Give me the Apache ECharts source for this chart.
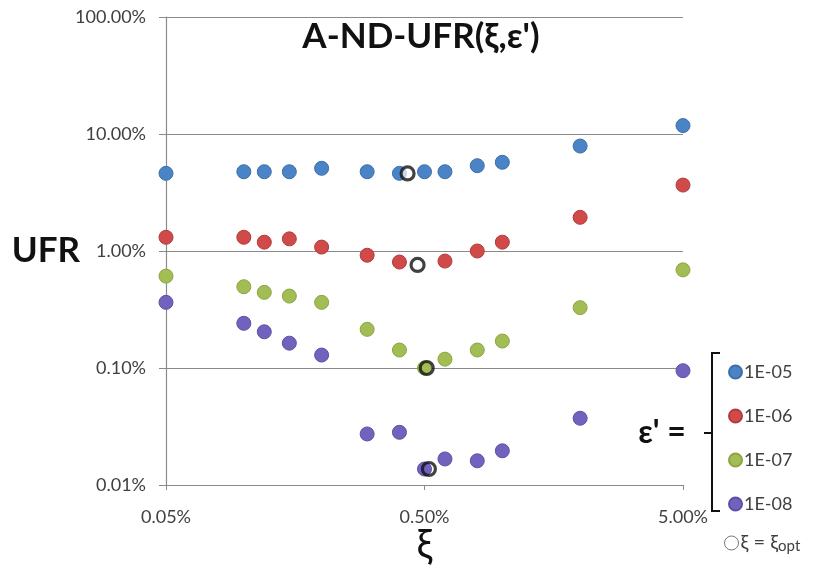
<!DOCTYPE html>
<html>
<head>
<meta charset="utf-8">
<script src="https://cdn.jsdelivr.net/npm/echarts@6/dist/echarts.min.js"></script>
<style>
  html, body { margin: 0; padding: 0; background: #fff; }
  #chart { width: 824px; height: 567px; }
</style>
</head>
<body>
<div id="chart"></div>
<script>
// ξ values (fraction) shared by all ε' series
const xi = [0.0005, 0.001, 0.0012, 0.0015, 0.002, 0.003, 0.004, 0.005, 0.006, 0.008, 0.01, 0.02, 0.05];

// UFR (fraction) for each ε'
const ufr_1e5 = [0.0461, 0.0476, 0.0476, 0.0476, 0.0509, 0.0476, 0.0461, 0.0476, 0.0476, 0.0536, 0.0573, 0.0789, 0.118];
const ufr_1e6 = [0.0131, 0.0131, 0.0119, 0.0127, 0.0108, 0.0092, 0.00805, null, 0.0082, 0.0100, 0.0119, 0.0194, 0.0366];
const ufr_1e7 = [0.0061, 0.00495, 0.00443, 0.00412, 0.00364, 0.00214, 0.001425, 0.0010, 0.00119, 0.001425, 0.00170, 0.00328, 0.0069];
const ufr_1e8 = [0.00364, 0.00241, 0.00204, 0.00163, 0.00129, 0.000273, 0.000282, 0.000137, 0.000167, 0.000161, 0.000196, 0.000372, 0.000948];

// optimum ξ for each ε' and the UFR there
const optXi  = [0.0043, 0.0047, 0.0051, 0.0052];
const optUfr = [0.0460, 0.0076, 0.0010, 0.000137];

const seriesNames = ['1E-05', '1E-06', '1E-07', '1E-08'];
const seriesColors = ['#4A84C6', '#D04A4A', '#A3BD55', '#7262BE'];
const seriesBorders = ['#3C6FA8', '#B23C3C', '#8CA444', '#5E50A4'];

const xTicks = [0.0005, 0.005, 0.05];

const FONT = 'Lato, "Liberation Sans", "DejaVu Sans", sans-serif';
const pct = v => (v * 100).toFixed(2) + '%';

const allSeries = [ufr_1e5, ufr_1e6, ufr_1e7, ufr_1e8].map((vals, i) => ({
  name: seriesNames[i],
  type: 'scatter',
  symbolSize: 14,
  itemStyle: { color: seriesColors[i], borderColor: seriesBorders[i], borderWidth: 1, opacity: 1 },
  data: xi.map((x, k) => vals[k] == null ? null : [x, vals[k]]).filter(d => d)
}));

const optFill = ['rgba(255,255,255,0.85)', 'rgba(255,255,255,0.85)', 'rgba(0,0,0,0)', 'rgba(0,0,0,0)'];
allSeries.push({
  name: 'opt',
  type: 'scatter',
  symbolSize: 13,
  z: 5,
  itemStyle: { color: 'rgba(0,0,0,0)', borderColor: '#111', borderWidth: 3.2 },
  data: optXi.map((x, i) => ({ value: [x, optUfr[i]], itemStyle: { color: optFill[i] } }))
});

const chart = echarts.init(document.getElementById('chart'), null, { renderer: 'canvas' });
chart.setOption({
  animation: false,
  backgroundColor: '#fff',
  title: {
    text: "A-ND-UFR(ξ,ε')",
    left: 416,
    top: 14,
    textAlign: 'center',
    textStyle: { fontFamily: FONT, fontSize: 35, fontWeight: 'bold', color: '#111' }
  },
  grid: { left: 166, right: 141, top: 17, bottom: 82, containLabel: false, outerBoundsMode: 'none' },
  xAxis: {
    type: 'log',
    logBase: 10,
    min: 0.0005,
    max: 0.05,
    name: 'ξ',
    nameLocation: 'middle',
    nameGap: 40,
    nameMoveOverlap: false,
    nameTextStyle: { fontFamily: FONT, fontSize: 40, color: '#111', verticalAlign: 'top' },
    axisLine: { lineStyle: { color: '#8a8a8a', width: 1.2 } },
    axisTick: { show: true, length: 5, customValues: xTicks, lineStyle: { color: '#8a8a8a' } },
    axisLabel: { customValues: xTicks, formatter: pct, margin: 23, fontFamily: FONT, fontSize: 18, color: '#404040' },
    splitLine: { show: false },
    minorTick: { show: false }
  },
  yAxis: {
    type: 'log',
    logBase: 10,
    min: 0.0001,
    max: 1,
    name: 'UFR',
    nameLocation: 'middle',
    nameRotate: 0,
    nameGap: 86,
    nameMoveOverlap: false,
    nameTextStyle: { fontFamily: FONT, fontSize: 35, fontWeight: 'bold', color: '#111' },
    axisLine: { show: true, lineStyle: { color: '#8a8a8a', width: 1.2 } },
    axisTick: { show: true, length: 7, lineStyle: { color: '#8a8a8a' } },
    axisLabel: { formatter: pct, margin: 20, fontFamily: FONT, fontSize: 18, color: '#404040' },
    splitLine: { show: true, lineStyle: { color: '#8a8a8a', width: 1.2 } }
  },
  legend: [
    {
      data: seriesNames,
      orient: 'vertical',
      left: 723,
      top: 358,
      itemWidth: 13,
      itemHeight: 13,
      itemGap: 26,
      icon: 'circle',
      textStyle: { fontFamily: FONT, fontSize: 18, color: '#404040', lineHeight: 18, padding: [0, 0, 0, -3] }
    },
    {
      data: ['opt'],
      orient: 'vertical',
      left: 719,
      top: 528,
      itemWidth: 14,
      itemHeight: 14,
      icon: 'circle',
      itemStyle: { color: '#fff', borderColor: '#555', borderWidth: 1 },
      formatter: () => '{a|ξ = ξ}{s|opt}',
      textStyle: {
        fontFamily: FONT, color: '#404040', padding: [0, 0, 0, -3],
        rich: {
          a: { fontFamily: FONT, fontSize: 20, color: '#404040' },
          s: { fontFamily: FONT, fontSize: 15, color: '#404040', verticalAlign: 'bottom', padding: [7, 0, 0, 0] }
        }
      }
    }
  ],
  graphic: [
    {
      type: 'polyline',
      shape: { points: [[720, 353], [712, 353], [712, 511], [720, 511]] },
      style: { stroke: '#111', lineWidth: 2, fill: null }
    },
    {
      type: 'line',
      shape: { x1: 704, y1: 433, x2: 712, y2: 433 },
      style: { stroke: '#111', lineWidth: 2 }
    },
    {
      type: 'text',
      x: 662,
      y: 433,
      style: {
        text: "ε' =",
        fontFamily: FONT,
        fontSize: 32,
        fontWeight: 'bold',
        fill: '#111',
        align: 'center',
        verticalAlign: 'middle'
      }
    }
  ],
  series: allSeries
});
</script>
</body>
</html>
